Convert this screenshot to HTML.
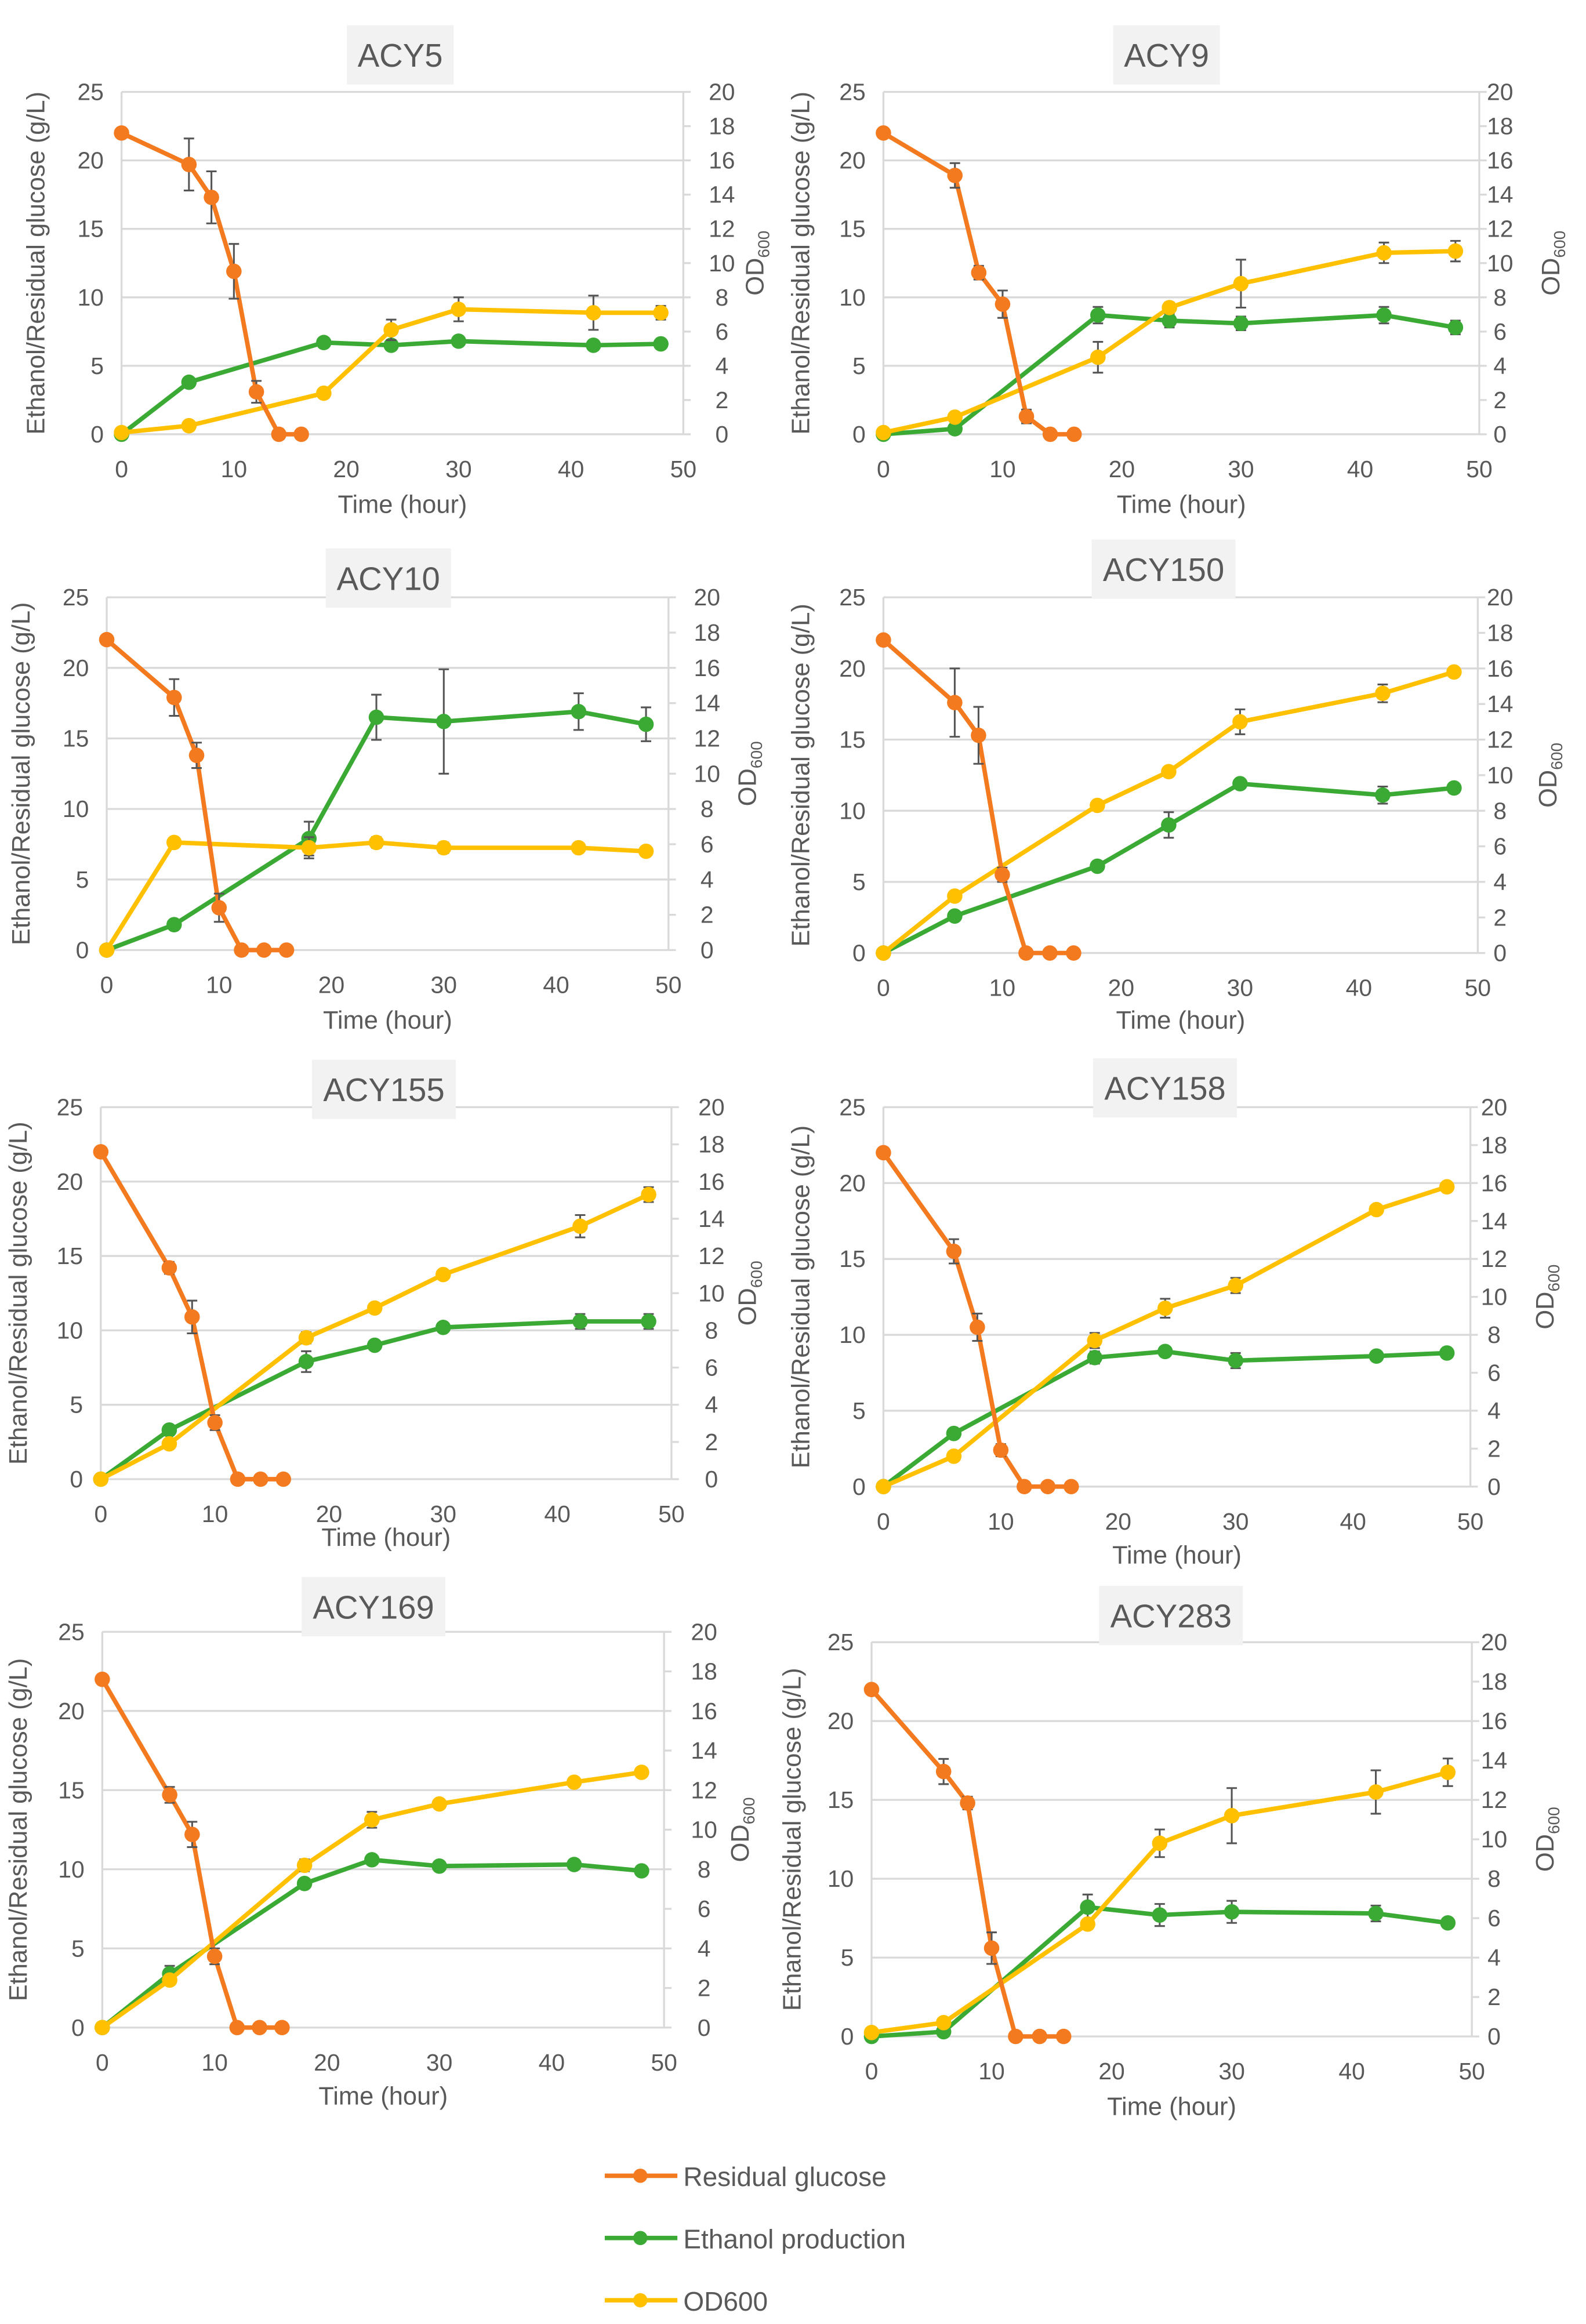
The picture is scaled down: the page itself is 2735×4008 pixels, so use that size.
<!DOCTYPE html>
<html><head><meta charset="utf-8">
<style>
html,body{margin:0;padding:0;background:#fff;}
svg{display:block;}
text{font-family:"Liberation Sans",sans-serif;fill:#595959;}
</style></head>
<body>
<svg id="fig" width="2735" height="4008" viewBox="0 0 1070 1568" xmlns="http://www.w3.org/2000/svg"></svg>
<script>
const timesGlucose = [0,6,8,10,12,14,16];
const timesGrowth = [0,6,18,24,30,42,48];
const xTicks = [0,10,20,30,40,50];
const yTicks = [0,5,10,15,20,25];
const y2Ticks = [0,2,4,6,8,10,12,14,16,18,20];
const strainNames = ["ACY5","ACY9","ACY10","ACY150","ACY155","ACY158","ACY169","ACY283"];
const glucose = [
 [22,19.7,17.3,11.9,3.1,0,0],
 [22,18.9,11.8,9.5,1.3,0,0],
 [22,17.9,13.8,3,0,0,0],
 [22,17.6,15.3,5.5,0,0,0],
 [22,14.2,10.9,3.8,0,0,0],
 [22,15.5,10.5,2.4,0,0,0],
 [22,14.7,12.2,4.5,0,0,0],
 [22,16.8,14.8,5.6,0,0,0]];
const glucoseErr = [
 [0,1.9,1.9,2,0.8,0,0],[0,0.9,0.5,1,0.5,0,0],[0,1.3,0.9,1,0,0,0],[0,2.4,2,0.5,0,0,0],
 [0,0.4,1.1,0.5,0,0,0],[0,0.8,0.9,0.4,0,0,0],[0,0.5,0.8,0.5,0,0,0],[0,0.8,0.4,1,0,0,0]];
const ethanol = [
 [0,3.8,6.7,6.5,6.8,6.5,6.6],
 [0,0.4,8.7,8.3,8.1,8.7,7.8],
 [0,1.8,7.9,16.5,16.2,16.9,16],
 [0,2.6,6.1,9,11.9,11.1,11.6],
 [0,3.3,7.9,9,10.2,10.6,10.6],
 [0,3.5,8.5,8.9,8.3,8.6,8.8],
 [0,3.4,9.1,10.6,10.2,10.3,9.9],
 [0,0.3,8.2,7.7,7.9,7.8,7.2]];
const ethanolErr = [
 [0,0,0,0.3,0,0,0],[0,0,0.6,0.5,0.5,0.6,0.5],[0,0,1.2,1.6,3.7,1.3,1.2],[0,0,0,0.9,0.3,0.6,0],
 [0,0,0.7,0,0,0.5,0.5],[0,0,0.4,0,0.5,0,0],[0,0.5,0,0,0,0,0],[0,0,0.8,0.7,0.7,0.5,0]];
const od600 = [
 [0.1,0.5,2.4,6.1,7.3,7.1,7.1],
 [0.1,1,4.5,7.4,8.8,10.6,10.7],
 [0,6.1,5.8,6.1,5.8,5.8,5.6],
 [0,3.2,8.3,10.2,13,14.6,15.8],
 [0,1.9,7.6,9.2,11,13.6,15.3],
 [0,1.6,7.7,9.4,10.6,14.6,15.8],
 [0,2.4,8.2,10.5,11.3,12.4,12.9],
 [0.2,0.7,5.7,9.8,11.2,12.4,13.4]];
const odErr = [
 [0,0,0,0.6,0.7,1,0.4],[0,0,0.9,0.3,1.4,0.6,0.6],[0,0,0.6,0.3,0.3,0,0],[0,0,0.2,0,0.7,0.5,0],
 [0,0,0.3,0,0,0.6,0.4],[0,0,0.4,0.5,0.4,0,0.2],[0,0.2,0.3,0.4,0,0,0],[0,0,0,0.7,1.4,1.1,0.7]];
const layout = [
 {x0:82,x1:461,y0:293,y1:62,tx:270,ty:37,time:346,ylab:30,r:487,odl:515},
 {x0:596,x1:998,y0:293,y1:62,tx:787,ty:37,time:346,ylab:546,r:1012,odl:1052},
 {x0:72,x1:451,y0:641,y1:403,tx:262,ty:390,time:694,ylab:20,r:477,odl:510},
 {x0:596,x1:997,y0:643,y1:403,tx:785,ty:384,time:694,ylab:546,r:1012,odl:1050},
 {x0:68,x1:453,y0:998,y1:747,tx:259,ty:735,time:1043,ylab:18,r:480,odl:510},
 {x0:596,x1:992,y0:1003,y1:747,tx:786,ty:734,time:1055,ylab:546,r:1008,odl:1048},
 {x0:69,x1:448,y0:1368,y1:1101,tx:252,ty:1084,time:1420,ylab:18,r:475,odl:505},
 {x0:588,x1:993,y0:1374,y1:1108,tx:790,ty:1090,time:1427,ylab:540,r:1008,odl:1048}];
const NS="http://www.w3.org/2000/svg";
const svg=document.getElementById('fig');
function mk(tag,attrs,parent,txt){const e=document.createElementNS(NS,tag);for(const k in attrs)e.setAttribute(k,attrs[k]);if(txt!==undefined)e.textContent=txt;(parent||svg).appendChild(e);return e;}
const C={g:"#f47a20",e:"#3aaa35",o:"#ffc000"};
strainNames.forEach((name,i)=>{
 const L=layout[i];
 const g=mk('g',{});
 
 
 const xs=t=>L.x0+(L.x1-L.x0)*t/50;
 const ys=v=>L.y0+(L.y1-L.y0)*v/25;
 const ys2=v=>L.y0+(L.y1-L.y0)*v/20;
 yTicks.forEach(v=>{
  const gl=mk('line',{x1:L.x0,x2:L.x1,y1:ys(v),y2:ys(v),stroke:"#d9d9d9","stroke-width":1.3},g);
  
  
  const t=mk('text',{x:L.x0-12,y:ys(v)+5.5,"text-anchor":"end","font-size":16},g,String(v));
  
  
 });
 mk('line',{x1:L.x0,x2:L.x0,y1:L.y0,y2:L.y1,stroke:"#d9d9d9","stroke-width":1.3},g);
 mk('line',{x1:L.x1,x2:L.x1,y1:L.y0,y2:L.y1,stroke:"#d9d9d9","stroke-width":1.3},g);
 y2Ticks.forEach(v=>{
  mk('line',{x1:L.x1,x2:L.x1+5,y1:ys2(v),y2:ys2(v),stroke:"#d9d9d9","stroke-width":1.3},g);
  const t=mk('text',{x:L.r,y:ys2(v)+5.5,"text-anchor":"middle","font-size":16},g,String(v));
  
  
 });
 xTicks.forEach(v=>{
  const t=mk('text',{x:xs(v),y:L.y0+29,"text-anchor":"middle","font-size":16},g,String(v));
  
  
 });
 const xt=mk('text',{x:(L.x0+L.x1)/2,y:L.time,"text-anchor":"middle","font-size":17},g,"Time (hour)");
 
 
 const ym=(L.y0+L.y1)/2;
 const yt=mk('text',{x:L.ylab,y:ym,"text-anchor":"middle","font-size":17,transform:`rotate(-90 ${L.ylab} ${ym})`},g,"Ethanol/Residual glucose (g/L)");
 
 
 const od=mk('text',{x:L.odl,y:ym,"text-anchor":"middle","font-size":17,transform:`rotate(-90 ${L.odl} ${ym})`},g);
 
 
 mk('tspan',{},od,"OD");mk('tspan',{"font-size":11,dy:4},od,"600");
 const tw=name.length*12.5+22;
 mk('rect',{x:L.tx-tw/2,y:L.ty-20,width:tw,height:40,fill:"#f2f2f2"},g);
 const tt=mk('text',{x:L.tx,y:L.ty+8,"text-anchor":"middle","font-size":22,fill:"#404040"},g,name);
 
 
 function series(ts,vals,errs,ysf,col,nm){
  const sg=mk('g',{},g);
  
  
  const pts=ts.map((t,k)=>xs(t)+','+ysf(vals[k])).join(' ');
  mk('polyline',{points:pts,fill:"none",stroke:col,"stroke-width":3,"stroke-linejoin":"round"},sg);
  ts.forEach((t,k)=>{
   if(errs[k]>0){
    const x=xs(t),a=ysf(vals[k]+errs[k]),b=ysf(vals[k]-errs[k]);
    const eb=mk('path',{d:`M${x},${a}V${b}M${x-3.5},${a}h7M${x-3.5},${b}h7`,stroke:"#555","stroke-width":1.2,fill:"none"},sg);
    
    
   }
   const c=mk('circle',{cx:xs(t),cy:ysf(vals[k]),r:5.2,fill:col},sg);
   
   
  });
 }
 series(timesGrowth,ethanol[i],ethanolErr[i],ys,C.e,'ethanol');
 series(timesGrowth,od600[i],odErr[i],ys2,C.o,'od600');
 series(timesGlucose,glucose[i],glucoseErr[i],ys,C.g,'glucose');
});
const legendLabels=["Residual glucose","Ethanol production","OD600"];
const legendColors=[C.g,C.e,C.o];
const legendY=[1468,1510,1552];
legendLabels.forEach((lab,k)=>{
 const lg=mk('g',{});
 
 
 mk('line',{x1:408,x2:457,y1:legendY[k],y2:legendY[k],stroke:legendColors[k],"stroke-width":3},lg);
 mk('circle',{cx:432,cy:legendY[k],r:4.8,fill:legendColors[k]},lg);
 mk('text',{x:461,y:legendY[k]+7,"font-size":18,fill:"#505050"},lg,lab);
});
</script>
</body></html>
